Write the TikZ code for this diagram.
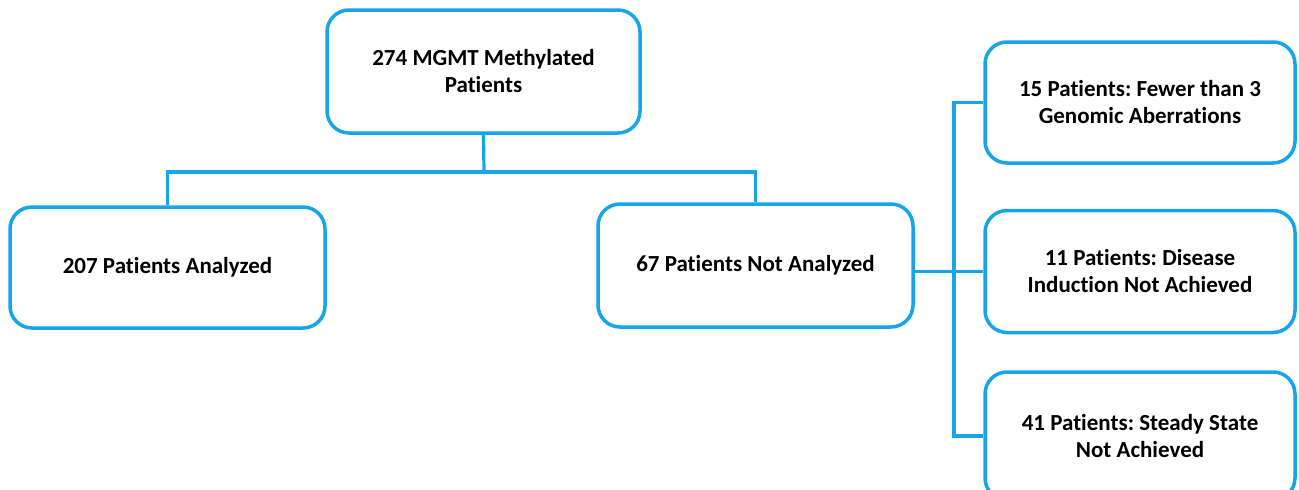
\documentclass[tikz,border=0pt]{standalone}
\usepackage{fontspec}
\setmainfont{Carlito}[Ligatures=NoCommon]
\definecolor{boxblue}{RGB}{22,165,232}
\frenchspacing
\begin{document}
\begin{tikzpicture}[x=1pt,y=-1pt,
  box/.style={draw=boxblue, line width=3.5pt, rounded corners=22pt, fill=white,
    align=center, font=\bfseries\fontsize{23}{27}\selectfont, inner sep=0pt},
  link/.style={draw=boxblue, line width=3.2pt}]
\useasboundingbox (0,0) rectangle (1299,490);
\clip (0,0) rectangle (1299,490);
\node[box, minimum width=313pt, minimum height=123pt] (top) at (483.5,71.5) {274 MGMT Methylated\\Patients};
\node[box, minimum width=315pt, minimum height=121pt] (ana) at (167.5,267.5) {207 Patients Analyzed};
\node[box, minimum width=315pt, minimum height=123pt] (nan) at (755.5,265.5) {67 Patients Not Analyzed};
\node[box, minimum width=310pt, minimum height=121pt] (r1) at (1140,102.5) {15 Patients: Fewer than 3\\Genomic Aberrations};
\node[box, minimum width=310pt, minimum height=122pt] (r2) at (1140,271.5) {11 Patients: Disease\\Induction Not Achieved};
\node[box, minimum width=310pt, minimum height=128pt] (r3) at (1140,436) {41 Patients: Steady State\\Not Achieved};
\coordinate (bus) at (484,172);
\coordinate (vbus) at (954,271.5);
\draw[link] (top.south) -- (bus);
\draw[link] (ana.north) |- (bus) -| (nan.north);
\draw[link] (vbus -| nan.east) -- (r2.west);
\draw[link] (r1.west) -| (vbus) |- (r3.west);
\end{tikzpicture}
\end{document}
